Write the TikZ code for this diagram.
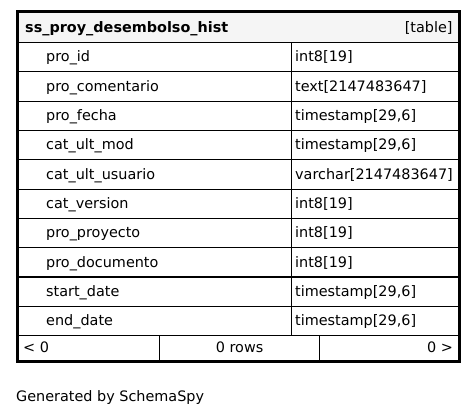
\documentclass[tikz,border=0pt]{standalone}
\usepackage{fontspec}
\setmainfont{DejaVu Sans}
\usetikzlibrary{calc}
\begin{document}
\begin{tikzpicture}[x=1pt,y=-1pt]
% Table style
\tikzset{
    cell/.style={draw,line width=1.2pt,minimum height=29.3pt,inner sep=0pt,anchor=north west},
    txt/.style={inner sep=0pt,font=\fontsize{14.4}{16}\selectfont}
}
\useasboundingbox (0,0) rectangle (476,417);
% Header
\node[cell,fill=black!4,minimum width=440.5pt,minimum height=30.5pt] (hd) at (17.5,11.5){};
\node[txt,anchor=mid west,font=\fontsize{14.4}{16}\selectfont\bfseries] (title) at ($(hd.west)+(7.5,2.5)$){ss\_proy\_desembolso\_hist};
\node[txt,anchor=mid east] (kind) at ($(hd.east)+(-6.5,2.5)$){[table]};
% Columns
\foreach \n/\t [count=\i] in {pro\_id/int8[19], pro\_comentario/text[2147483647], pro\_fecha/{timestamp[29,6]}, cat\_ult\_mod/{timestamp[29,6]}, cat\_ult\_usuario/varchar[2147483647], cat\_version/int8[19], pro\_proyecto/int8[19], pro\_documento/int8[19], start\_date/{timestamp[29,6]}, end\_date/{timestamp[29,6]}}{
    \node[cell,minimum width=273.5pt] (c\i) at (17.5,{42+(\i-1)*29.3}){};
    \node[cell,minimum width=167pt] (t\i) at (291,{42+(\i-1)*29.3}){};
    \node[txt,anchor=mid west] (cn\i) at ($(c\i.west)+(28.5,2)$){\n};
    \node[txt,anchor=mid west] (tn\i) at ($(t\i.west)+(4,2)$){\t};
}
% Footer
\node[cell,minimum width=141.5pt,minimum height=25.5pt] (f1) at (17.5,335){};
\node[cell,minimum width=160pt,minimum height=25.5pt] (f2) at (159,335){};
\node[cell,minimum width=139pt,minimum height=25.5pt] (f3) at (319,335){};
\node[txt,anchor=mid west] (prev) at ($(f1.west)+(5.5,1)$){< 0};
\node[txt,anchor=mid] (rows) at ($(f2.center)+(0,1)$){0 rows};
\node[txt,anchor=mid east] (next) at ($(f3.east)+(-6,1)$){0 >};
\draw[line width=3pt] (hd.north west) rectangle (f3.south east);
% Caption
\node[txt,anchor=mid west] (gen) at (16,399){Generated by SchemaSpy};
\end{tikzpicture}
\end{document}
